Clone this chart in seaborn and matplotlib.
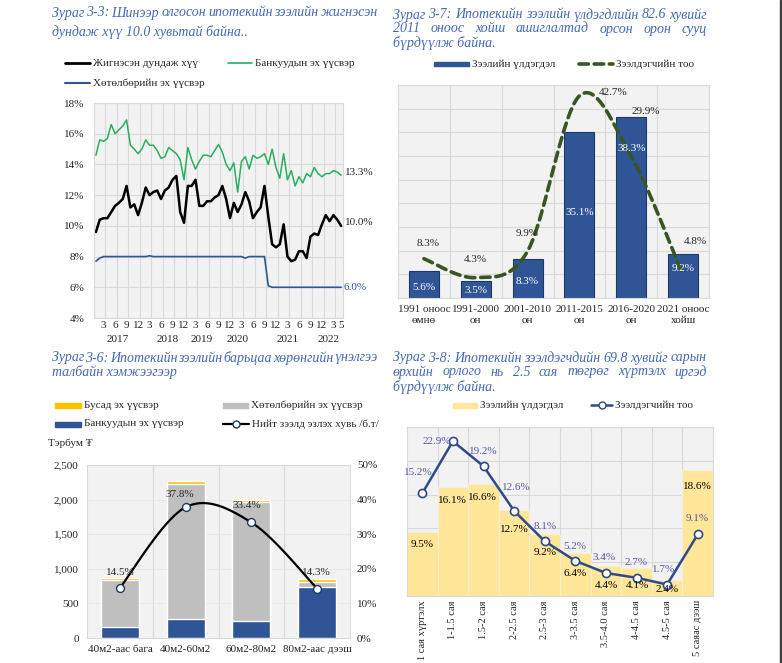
import numpy as np
import pandas as pd
import matplotlib
matplotlib.use("Agg")
import matplotlib.pyplot as plt
import matplotlib.transforms as mtransforms
from matplotlib.lines import Line2D
from matplotlib.patches import Rectangle
import seaborn as sns

# ---------------- DATA ----------------
# Chart 3-3 : monthly rates Jan 2017 - May 2022
weighted_rate = [9.6, 10.4, 10.5, 10.5, 10.9, 11.3, 11.5, 11.75, 12.6, 11.2, 11.4, 10.7,
                 11.5, 12.5, 12.0, 12.2, 12.3, 11.75, 12.3, 12.5, 13.0, 13.25, 10.9, 10.2,
                 12.6, 12.6, 13.0, 11.3, 11.3, 11.6, 11.6, 11.85, 12.0, 12.6, 11.75, 10.5,
                 11.5, 10.9, 11.4, 12.2, 11.6, 10.5, 10.9, 11.2, 12.6, 10.6, 8.8, 8.6,
                 8.8, 10.1, 8.0, 7.7, 7.8, 8.35, 8.35, 7.9, 9.3, 9.5, 9.4, 10.1,
                 10.7, 10.3, 10.7, 10.4, 10.0]
bank_rate = [14.6, 15.6, 15.5, 15.7, 16.6, 16.0, 16.25, 16.5, 16.9, 15.25, 15.0, 14.7,
             15.0, 15.6, 15.25, 15.25, 14.9, 14.4, 14.5, 15.1, 14.9, 14.7, 14.3, 13.0,
             15.1, 14.3, 13.7, 14.2, 14.6, 14.6, 14.5, 14.9, 15.3, 14.8, 14.0, 13.6,
             14.1, 12.2, 14.2, 14.5, 13.7, 14.6, 14.4, 14.5, 14.7, 14.0, 15.0, 13.8,
             13.1, 14.7, 13.0, 13.6, 12.6, 13.2, 12.8, 13.4, 13.2, 13.8, 13.4, 13.2,
             13.4, 13.4, 13.6, 13.5, 13.3]
program_rate = [7.7, 7.9, 8.0, 8.0, 8.0, 8.0, 8.0, 8.0, 8.0, 8.0, 8.0, 8.0,
                8.0, 8.0, 8.05, 8.0, 8.0, 8.0, 8.0, 8.0, 8.0, 8.0, 8.0, 8.0,
                8.0, 8.0, 8.0, 8.0, 8.0, 8.0, 8.0, 8.0, 8.0, 8.0, 8.0, 8.0,
                8.0, 8.0, 8.0, 7.9, 8.0, 8.0, 8.0, 8.0, 8.0, 6.1, 6.0, 6.0,
                6.0, 6.0, 6.0, 6.0, 6.0, 6.0, 6.0, 6.0, 6.0, 6.0, 6.0, 6.0,
                6.0, 6.0, 6.0, 6.0, 6.0]
month_tick_labels = ["3", "6", "9", "12"] * 5 + ["3", "5"]
month_tick_index = [2, 5, 8, 11, 14, 17, 20, 23, 26, 29, 32, 35, 38, 41, 44, 47,
                    50, 53, 56, 59, 62, 64]
year_labels = ["2017", "2018", "2019", "2020", "2021", "2022"]

# Chart 3-7
period_labels = ["1991 оноос\nөмнө", "1991-2000\nон", "2001-2010\nон",
                 "2011-2015\nон", "2016-2020\nон", "2021 оноос\nхойш"]
loan_balance_share = [5.6, 3.5, 8.3, 35.1, 38.3, 9.2]
borrower_share = [8.3, 4.3, 9.9, 42.7, 29.9, 4.8]

# Chart 3-6
area_labels = ["40м2-аас бага", "40м2-60м2", "60м2-80м2", "80м2-аас дээш"]
bank_source = [155, 270, 240, 730]
program_source = [685, 1955, 1720, 78]
other_source = [25, 45, 35, 45]
total_share = [14.5, 37.8, 33.4, 14.3]

# Chart 3-8
income_labels = ["1 сая хүртэлх", "1-1.5 сая", "1.5-2 сая", "2-2.5 сая", "2.5-3 сая",
                 "3-3.5 сая", "3.5-4.0 сая", "4-4.5 сая", "4.5-5 сая", "5 саяас дээш"]
income_balance = [9.5, 16.1, 16.6, 12.7, 9.2, 6.4, 4.4, 4.1, 2.4, 18.6]
income_borrowers = [15.2, 22.9, 19.2, 12.6, 8.1, 5.2, 3.4, 2.7, 1.7, 9.1]

# ---------------- STYLE ----------------
sns.set_style("white")
plt.rcParams["font.family"] = ["Liberation Serif", "DejaVu Sans"]
plt.rcParams["font.size"] = 8

W, H = 782, 663
fig = plt.figure(figsize=(W / 100, H / 100), dpi=100)
fig.patch.set_facecolor("white")

TITLE_C = "#4169B5"
GRID_C = "#D9D9D9"
BG_C = "#F2F2F2"
NAVY = "#2F5597"


def rect(l, t, r, b):
    return [l / W, 1 - b / H, (r - l) / W, (b - t) / H]


def fx(px):
    return px / W


def fy(py):
    return 1 - py / H


def smooth(values, n=40):
    P = np.column_stack([np.arange(len(values), dtype=float), np.asarray(values, float)])
    Pp = np.vstack([P[0], P, P[-1]])
    xs, ys = [], []
    t = np.linspace(0, 1, n)
    for i in range(len(P) - 1):
        p0, p1, p2, p3 = Pp[i], Pp[i + 1], Pp[i + 2], Pp[i + 3]
        c1 = p1 + (p2 - p0) / 6
        c2 = p2 - (p3 - p1) / 6
        seg = ((1 - t) ** 3)[:, None] * p1 + (3 * (1 - t) ** 2 * t)[:, None] * c1 + \
              (3 * (1 - t) * t ** 2)[:, None] * c2 + (t ** 3)[:, None] * p2
        xs.append(seg[:, 0]); ys.append(seg[:, 1])
    return np.concatenate(xs), np.concatenate(ys)


renderer = fig.canvas.get_renderer()


def justified(line, x0, x1, y, **kw):
    words = line.split()
    texts = [fig.text(0, fy(y), w, ha="left", va="center", **kw) for w in words]
    widths = [t.get_window_extent(renderer).width for t in texts]
    gap = ((x1 - x0) - sum(widths)) / max(len(words) - 1, 1)
    x = x0
    for t, w in zip(texts, widths):
        t.set_x(fx(x))
        x += w + gap


def left_text(line, x0, y, **kw):
    fig.text(fx(x0), fy(y), line, ha="left", va="center", **kw)


def leg_line(x0, x1, y, label, color, lw, marker=False, dashes=None, mfc="white", mec=None):
    ln = Line2D([fx(x0), fx(x1)], [fy(y), fy(y)], color=color, lw=lw, transform=fig.transFigure)
    if dashes:
        ln.set_dashes(dashes)
        ln.set_dash_capstyle("round")
    fig.add_artist(ln)
    if marker:
        fig.add_artist(Line2D([fx((x0 + x1) / 2)], [fy(y)], marker="o", ms=5, mfc=mfc,
                              mec=mec or color, mew=1.0, transform=fig.transFigure))
    fig.text(fx(x1 + 3), fy(y), label, ha="left", va="center", fontsize=8)


def leg_patch(x0, x1, y, h, label, color):
    fig.add_artist(Rectangle((fx(x0), fy(y + h / 2)), (x1 - x0) / W, h / H, color=color,
                             transform=fig.transFigure))
    fig.text(fx(x1 + 3), fy(y), label, ha="left", va="center", fontsize=8)


def style_box(ax):
    ax.set_facecolor(BG_C)
    for s in ax.spines.values():
        s.set_color(GRID_C)
        s.set_linewidth(0.8)
    ax.set_axisbelow(True)


tkw = dict(fontsize=10, style="italic", color=TITLE_C)

# ======================= CHART 3-3 =======================
justified("Зураг 3-3: Шинээр олгосон ипотекийн зээлийн жигнэсэн", 52, 378, 13, **tkw)
left_text("дундаж хүү 10.0 хувьтай байна..", 52, 32, **tkw)
leg_line(65, 90, 63, "Жигнэсэн дундаж хүү", "black", 2.0)
leg_line(228, 252, 63, "Банкуудын эх үүсвэр", "#27AE60", 1.2)
leg_line(65, 90, 83, "Хөтөлбөрийн эх үүсвэр", NAVY, 1.5)

ax1 = fig.add_axes(rect(94, 103, 343, 318))
style_box(ax1)
idx = np.arange(len(weighted_rate))
df1 = pd.DataFrame({"i": idx, "w": weighted_rate, "b": bank_rate, "p": program_rate})
sns.lineplot(data=df1, x="i", y="b", ax=ax1, color="#27AE60", lw=1.1)
sns.lineplot(data=df1, x="i", y="p", ax=ax1, color=NAVY, lw=1.2)
sns.lineplot(data=df1, x="i", y="w", ax=ax1, color="black", lw=1.8)
ax1.set_xlim(-0.5, len(idx) - 0.5)
ax1.set_ylim(4, 18)
ax1.set_yticks(np.arange(4, 19, 2))
ax1.set_yticklabels([f"{v}%" for v in range(4, 19, 2)])
ax1.set_xticks(month_tick_index)
ax1.set_xticklabels(month_tick_labels)
ax1.set_xticks(np.arange(2.5, len(idx) - 1, 3), minor=True)
ax1.grid(which="minor", axis="x", color=GRID_C, lw=0.8)
ax1.grid(which="major", axis="y", color=GRID_C, lw=0.8)
ax1.tick_params(which="both", length=0)
ax1.tick_params(axis="y", pad=7, labelsize=8)
ax1.tick_params(axis="x", pad=2, labelsize=8)
ax1.set_xlabel(""); ax1.set_ylabel("")
year_pos = [5.8, 18.6, 27.5, 36.9, 50.0, 60.7]
tr1 = mtransforms.blended_transform_factory(ax1.transData, fig.transFigure)
for yp, yl in zip(year_pos, year_labels):
    ax1.text(yp, fy(339), yl, transform=tr1, ha="center", va="center", fontsize=8)
ax1.text(65.0, bank_rate[-1] + 0.2, f"{bank_rate[-1]:.1f}%", ha="left", va="center",
         fontsize=8, clip_on=False)
ax1.text(65.0, weighted_rate[-1] + 0.25, f"{weighted_rate[-1]:.1f}%", ha="left", va="center",
         fontsize=8, clip_on=False)
ax1.text(64.7, program_rate[-1], f"{program_rate[-1]:.1f}%", ha="left", va="center",
         fontsize=8, color=NAVY, clip_on=False)

# ======================= CHART 3-7 =======================
justified("Зураг 3-7: Ипотекийн зээлийн үлдэгдлийн 82.6  хувийг", 393, 707, 15, **tkw)
justified("2011 оноос хойш ашиглалтад орсон орон сууц", 393, 707, 29, **tkw)
left_text("бүрдүүлж байна.", 393, 43, **tkw)
leg_patch(434, 469, 64, 4.5, "Зээлийн үлдэгдэл", NAVY)
leg_line(579, 613, 64, "Зээлдэгчийн тоо", "#375623", 2.6, dashes=(2.6, 1.6))

ax2 = fig.add_axes(rect(398, 85, 709, 298))
style_box(ax2)
sns.barplot(x=period_labels, y=loan_balance_share, ax=ax2, color=NAVY, saturation=1,
            width=0.58, edgecolor="#1F3864", linewidth=0.8, errorbar=None)
sx, sy = smooth(borrower_share)
sns.lineplot(x=sx, y=sy, ax=ax2, sort=False, estimator=None, color="#375623", lw=2.6)
ax2.lines[-1].set_dashes((2.6, 1.6))
ax2.lines[-1].set_dash_capstyle("round")
ax2.set_xlim(-0.5, 5.5)
ax2.set_ylim(0, 45)
ax2.set_yticks(np.arange(0, 46, 5))
ax2.set_yticklabels([])
ax2.set_xticks(np.arange(0.5, 5, 1), minor=True)
ax2.grid(which="minor", axis="x", color=GRID_C, lw=0.8)
ax2.grid(which="major", axis="y", color=GRID_C, lw=0.8)
ax2.tick_params(which="both", length=0)
ax2.tick_params(axis="x", pad=5, labelsize=8)
for t in ax2.get_xticklabels():
    t.set_linespacing(1.35)
ax2.set_xlabel(""); ax2.set_ylabel("")
line_lab2 = [(0.08, 11.6), (1.0, 8.2), (1.99, 13.7), (3.65, 43.5), (4.29, 39.5), (5.23, 12.0)]
bar_lab2 = [2.3, 1.5, 3.4, 18.0, 31.5, 6.3]
for i, v in enumerate(borrower_share):
    ax2.text(line_lab2[i][0], line_lab2[i][1], f"{v}%", ha="center", va="center", fontsize=8)
for i, v in enumerate(loan_balance_share):
    ax2.text(i, bar_lab2[i], f"{v}%", ha="center", va="center", fontsize=8, color="white")

# ======================= CHART 3-6 =======================
justified("Зураг 3-6: Ипотекийн зээлийн барьцаа хөрөнгийн үнэлгээ", 52, 378, 358, **tkw)
left_text("талбайн хэмжээгээр", 52, 372, **tkw)
leg_patch(55, 81, 405, 5, "Бусад эх үүсвэр", "#FFC000")
leg_patch(223, 248, 405, 5, "Хөтөлбөрийн эх үүсвэр", "#BFBFBF")
leg_patch(55, 81, 424, 5, "Банкуудын эх үүсвэр", NAVY)
leg_line(223, 249, 424, "Нийт зээлд эзлэх хувь /б.т/", "black", 1.6, marker=True, mec="#1F3864")
fig.text(fx(48), fy(443), "Тэрбум ₮", ha="left", va="center", fontsize=8)

ax3 = fig.add_axes(rect(87, 465, 350, 638))
style_box(ax3)
tot_all = [a + b + c for a, b, c in zip(bank_source, program_source, other_source)]
tot_bp = [a + b for a, b in zip(bank_source, program_source)]
sns.barplot(x=area_labels, y=tot_all, ax=ax3, color="#FFC000", saturation=1, width=0.58,
            errorbar=None)
sns.barplot(x=area_labels, y=tot_bp, ax=ax3, color="#BFBFBF", saturation=1, width=0.58,
            errorbar=None)
sns.barplot(x=area_labels, y=bank_source, ax=ax3, color=NAVY, saturation=1, width=0.58,
            errorbar=None)
ax3.set_xlim(-0.5, 3.5)
ax3.set_ylim(0, 2500)
ax3.set_yticks(np.arange(0, 2501, 500))
ax3.set_yticklabels([f"{v:,}" for v in range(0, 2501, 500)])
ax3.set_xticks(np.arange(0.5, 3, 1), minor=True)
ax3.grid(which="minor", axis="x", color=GRID_C, lw=0.8)
ax3.grid(which="major", axis="y", color="#E6E6E6", lw=0.6)
ax3.tick_params(which="both", length=0)
ax3.tick_params(axis="y", pad=6, labelsize=8)
ax3.tick_params(axis="x", pad=5, labelsize=8)
ax3.set_xlabel(""); ax3.set_ylabel("")
ax3r = ax3.twinx()
ax3r.set_ylim(0, 50)
ax3r.set_yticks(np.arange(0, 51, 10))
ax3r.set_yticklabels([f"{v}%" for v in range(0, 51, 10)])
ax3r.tick_params(length=0, pad=5, labelsize=8)
for s in ax3r.spines.values():
    s.set_visible(False)
cx, cy = smooth(total_share)
sns.lineplot(x=cx, y=cy, ax=ax3r, sort=False, estimator=None, color="black", lw=1.6)
sns.scatterplot(x=np.arange(len(total_share)), y=total_share, ax=ax3r, s=32, color="white",
                edgecolor="#1F3864", linewidth=1.0, zorder=5)
ax3r.set_xlim(-0.5, 3.5)
ax3r.set_ylabel("")
lab3 = [(0.0, 18.8), (0.91, 41.6), (1.93, 38.2), (2.99, 18.8)]
for (lx, ly), v in zip(lab3, total_share):
    ax3r.text(lx, ly, f"{v}%", ha="center", va="center", fontsize=8)

# ======================= CHART 3-8 =======================
justified("Зураг 3-8: Ипотекийн зээлдэгчдийн 69.8 хувийг сарын", 393, 707, 358, **tkw)
justified("өрхийн орлого нь 2.5 сая төгрөг хүртэлх иргэд", 393, 707, 372, **tkw)
left_text("бүрдүүлж байна.", 393, 387, **tkw)
leg_patch(453, 477, 405, 5, "Зээлийн үлдэгдэл", "#FFE699")
leg_line(591, 612, 405, "Зээлдэгчийн тоо", "#2E4A87", 1.8, marker=True)

ax4 = fig.add_axes(rect(407, 427, 713, 596))
style_box(ax4)
sns.barplot(x=income_labels, y=income_balance, ax=ax4, color="#FFE699", saturation=1,
            width=1.0, edgecolor="#F7F0DC", linewidth=0.6, errorbar=None)
sns.lineplot(x=np.arange(len(income_borrowers)), y=income_borrowers, ax=ax4, color="#2E4A87",
             lw=1.8)
sns.scatterplot(x=np.arange(len(income_borrowers)), y=income_borrowers, ax=ax4, s=34,
                color="white", edgecolor="#2E4A87", linewidth=1.2, zorder=5)
ax4.set_xlim(-0.5, 9.5)
ax4.set_ylim(0, 25)
ax4.set_yticks(np.arange(0, 26, 5))
ax4.set_yticklabels([])
ax4.set_xticks(np.arange(0.5, 9, 1), minor=True)
ax4.grid(which="minor", axis="x", color=GRID_C, lw=0.8)
ax4.grid(which="major", axis="y", color=GRID_C, lw=0.8)
ax4.tick_params(which="both", length=0)
ax4.tick_params(axis="x", pad=3, labelsize=7.5, rotation=90)
ax4.set_xlabel(""); ax4.set_ylabel("")
line_lab4 = [(-0.14, 18.3), (0.48, 22.8), (1.98, 21.4), (3.09, 16.1), (4.01, 10.3),
             (4.99, 7.3), (5.94, 5.7), (6.98, 4.9), (7.87, 3.9), (8.98, 11.5)]
bar_lab4 = [(-0.01, 7.6), (1.0, 14.1), (1.98, 14.6), (3.0, 9.8), (4.01, 6.4),
            (4.99, 3.3), (6.0, 1.5), (7.02, 1.5), (8.0, 0.9), (8.98, 16.2)]
for (lx, ly), v in zip(line_lab4, income_borrowers):
    ax4.text(lx, ly, f"{v}%", ha="center", va="center", fontsize=8, color="#5457A0", zorder=6)
for (lx, ly), v in zip(bar_lab4, income_balance):
    ax4.text(lx, ly, f"{v}%", ha="center", va="center", fontsize=8, color="black", zorder=6)

# page edge
fig.add_artist(Rectangle((fx(779.5), 0), 2.5 / W, 1, color="#3C3C3C", transform=fig.transFigure))

fig.savefig("out.png", dpi=100)
